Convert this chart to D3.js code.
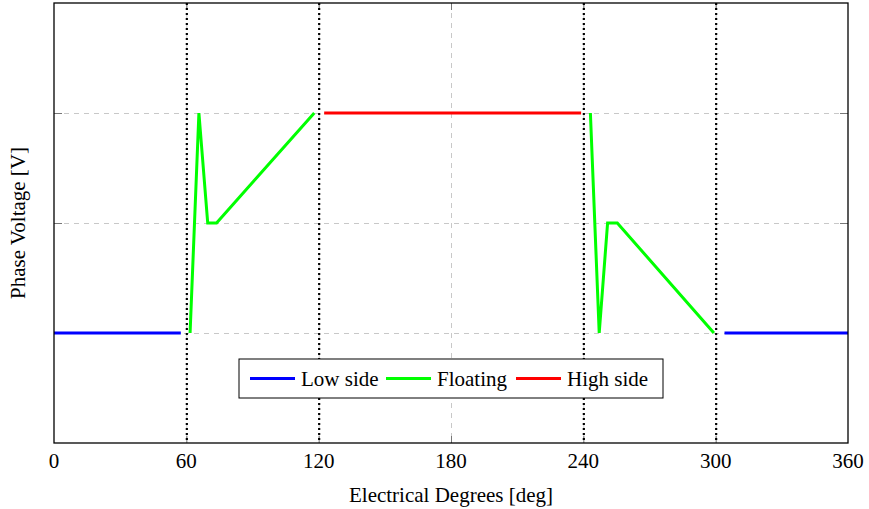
<!DOCTYPE html>
<html>
<head>
<meta charset="utf-8">
<script src="https://cdn.jsdelivr.net/npm/d3@7"></script>
<style>
  body { margin: 0; background: #fff; }
  text { font-family: "Liberation Serif", "Times New Roman", serif; fill: #000; }
</style>
</head>
<body>
<div id="chart"></div>
<script>
// ---- data ----
var xTicks = [0, 60, 120, 180, 240, 300, 360];
var yGrid = [0, 1, 2];
var sectorEdges = [60, 120, 240, 300];

var lowDegA = [0, 57.5],        lowVA = [0, 0];
var lowDegB = [304, 360],       lowVB = [0, 0];
var floatDegA = [61.7, 65.7, 69.7, 73.7, 118],    floatVA = [0, 2, 1, 1, 2];
var floatDegB = [243.2, 247.2, 251, 255.4, 299.2], floatVB = [2, 0, 1, 1, 0];
var highDeg = [122.5, 239],     highV = [2, 2];

var legendNames = ["Low side", "Floating", "High side"];
var legendColors = ["#0000ff", "#00ff00", "#ff0000"];

// ---- layout ----
var W = 869, H = 509;
var margin = {left: 54, right: 21, top: 3, bottom: 66};
var width = W - margin.left - margin.right;
var height = H - margin.top - margin.bottom;
var FONT = "21px";

var x = d3.scaleLinear().domain([0, 360]).range([0, width]);
var y = d3.scaleLinear().domain([-1, 3]).range([height, 0]);

var svg = d3.select("#chart").append("svg")
  .attr("width", W).attr("height", H);
var g = svg.append("g").attr("transform", "translate(" + margin.left + "," + margin.top + ")");

function zip(xs, ys){ return xs.map(function(d,i){ return [d, ys[i]]; }); }

// ---- grid ----
var gGrid = g.append("g").attr("id", "grid");
gGrid.selectAll("line.hg").data(yGrid).enter().append("line")
  .attr("x1", 0).attr("x2", width)
  .attr("y1", function(d){ return y(d) + 0.5; }).attr("y2", function(d){ return y(d) + 0.5; })
  .attr("stroke", "#c8c8c8").attr("stroke-width", 1).attr("stroke-dasharray", "5,5");
gGrid.selectAll("line.vg").data(xTicks.slice(1, -1)).enter().append("line")
  .attr("x1", function(d){ return x(d) + 0.5; }).attr("x2", function(d){ return x(d) + 0.5; })
  .attr("y1", 0).attr("y2", height)
  .attr("stroke", "#c8c8c8").attr("stroke-width", 1).attr("stroke-dasharray", "5,5");

// ---- inward ticks ----
var gTicks = g.append("g").attr("id", "ticks");
xTicks.slice(1, -1).forEach(function(d){
  gTicks.append("line").attr("x1", x(d) + 0.5).attr("x2", x(d) + 0.5)
    .attr("y1", height).attr("y2", height - 7).attr("stroke", "#777");
  gTicks.append("line").attr("x1", x(d) + 0.5).attr("x2", x(d) + 0.5)
    .attr("y1", 0).attr("y2", 7).attr("stroke", "#777");
});
yGrid.forEach(function(d){
  gTicks.append("line").attr("x1", 0).attr("x2", 8)
    .attr("y1", y(d) + 0.5).attr("y2", y(d) + 0.5).attr("stroke", "#777");
  gTicks.append("line").attr("x1", width - 8).attr("x2", width)
    .attr("y1", y(d) + 0.5).attr("y2", y(d) + 0.5).attr("stroke", "#777");
});

// ---- sector boundaries (dotted) ----
g.append("g").attr("id", "sectors").selectAll("line").data(sectorEdges).enter().append("line")
  .attr("x1", function(d){ return x(d) + 0.5; }).attr("x2", function(d){ return x(d) + 0.5; })
  .attr("y1", 0).attr("y2", height)
  .attr("stroke", "#000").attr("stroke-width", 2.2).attr("stroke-dasharray", "2,3");

// ---- series ----
var line = d3.line().x(function(d){ return x(d[0]); }).y(function(d){ return y(d[1]); });
var series = [
  {pts: zip(lowDegA, lowVA), color: legendColors[0]},
  {pts: zip(lowDegB, lowVB), color: legendColors[0]},
  {pts: zip(floatDegA, floatVA), color: legendColors[1]},
  {pts: zip(floatDegB, floatVB), color: legendColors[1]},
  {pts: zip(highDeg, highV), color: legendColors[2]}
];
g.append("g").attr("id", "series").selectAll("path").data(series).enter().append("path")
  .attr("d", function(d){ return line(d.pts); })
  .attr("fill", "none")
  .attr("stroke", function(d){ return d.color; })
  .attr("stroke-width", 3)
  .attr("stroke-linejoin", "miter");

// ---- frame ----
g.append("rect").attr("x", 0).attr("y", 0).attr("width", width).attr("height", height)
  .attr("fill", "none").attr("stroke", "#000").attr("stroke-width", 1.3);

// ---- tick labels ----
g.append("g").selectAll("text").data(xTicks).enter().append("text")
  .attr("x", function(d){ return x(d); }).attr("y", height + 25)
  .attr("text-anchor", "middle").style("font-size", FONT)
  .text(function(d){ return d; });

// ---- axis titles ----
svg.append("text").attr("x", margin.left + width / 2).attr("y", 502)
  .attr("text-anchor", "middle").style("font-size", FONT)
  .text("Electrical Degrees [deg]");
svg.append("text")
  .attr("transform", "translate(25," + (margin.top + height / 2) + ") rotate(-90)")
  .attr("text-anchor", "middle").style("font-size", FONT)
  .text("Phase Voltage [V]");

// ---- legend ----
var legW = 424, legH = 39;
var gLeg = g.append("g").attr("id", "legend")
  .attr("transform", "translate(" + (x(180) - legW / 2) + "," + (y(-0.5) - legH / 2 - 9.5) + ")");
gLeg.append("rect").attr("width", legW).attr("height", legH)
  .attr("fill", "#fff").attr("stroke", "#000").attr("stroke-width", 1);
var legOffsets = [11, 147, 277];
legendNames.forEach(function(name, i){
  var ox = legOffsets[i];
  gLeg.append("line").attr("x1", ox).attr("x2", ox + 45)
    .attr("y1", legH / 2).attr("y2", legH / 2)
    .attr("stroke", legendColors[i]).attr("stroke-width", 3);
  gLeg.append("text").attr("x", ox + 51).attr("y", legH / 2 + 7)
    .style("font-size", FONT).text(name);
});
</script>
</body>
</html>
